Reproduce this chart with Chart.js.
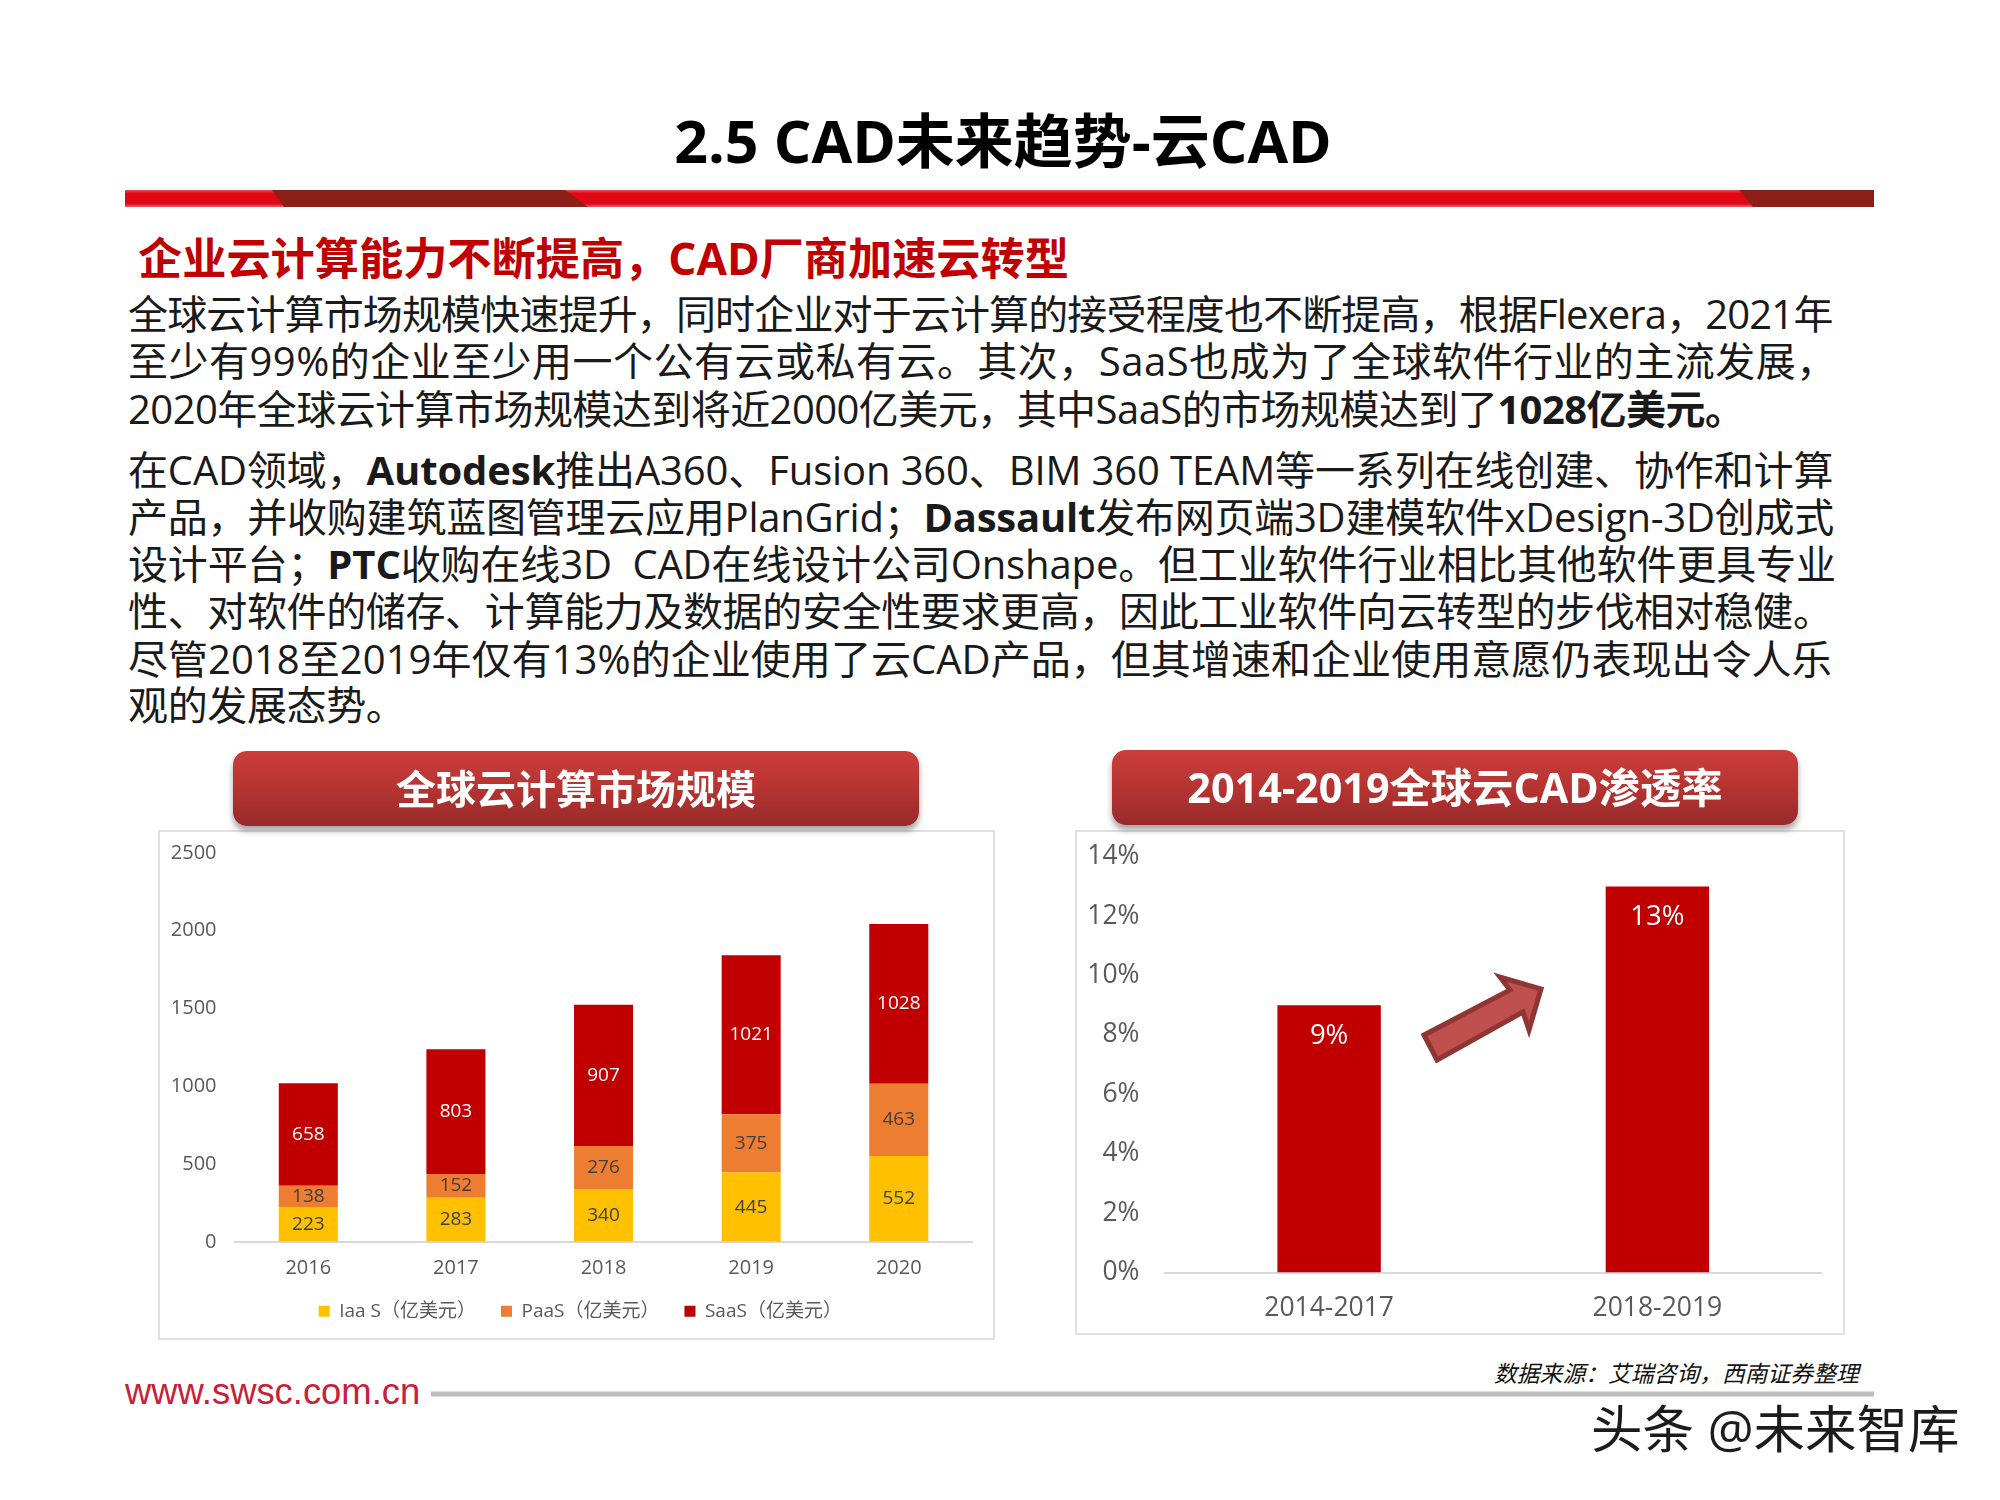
<!DOCTYPE html>
<html lang="zh-CN">
<head>
<meta charset="utf-8">
<title>2.5 CAD未来趋势-云CAD</title>
<script src="https://cdn.jsdelivr.net/npm/chart.js@4"></script>
<style>
  html, body { margin: 0; padding: 0; background: #fff; }
  body { position: relative; width: 2000px; height: 1500px; overflow: hidden;
         font-family: "Open Sans", "Noto Sans CJK SC", sans-serif; color: #111; }
  .t { position: absolute; white-space: nowrap; line-height: 1; }
  .body-line { left: 128px; font-size: 40px; transform: translateY(-50%); color: #1a1a1a; }
  .panel { position: absolute; box-sizing: border-box; border: 2px solid #e0e0e0; background: #fff; }
  .panel canvas { position: absolute; left: -2px; top: -2px; }
  .pill { position: absolute; height: 75px; border-radius: 14px; color: #fff; font-weight: 700;
          font-size: 40px; line-height: 75px; text-align: center; z-index: 2;
          background: linear-gradient(#cc3e3c, #b83532 45%, #982a2a);
          box-shadow: 0 5px 6px rgba(90, 90, 90, .55); }
  svg { position: absolute; left: 0; top: 0; z-index: 3; pointer-events: none; }
</style>
</head>
<body>
<div class="t" style="left:0;width:2006px;text-align:center;top:111px;font-size:59px;font-weight:700;color:#000">2.5 CAD未来趋势-云CAD</div>

<div class="t" style="left:138px;top:236px;font-size:44.2px;font-weight:700;color:#c00000">企业云计算能力不断提高，CAD厂商加速云转型</div>

<div class="t body-line" style="top:314px;letter-spacing:-.86px">全球云计算市场规模快速提升，同时企业对于云计算的接受程度也不断提高，根据Flexera，2021年</div>
<div class="t body-line" style="top:361px;letter-spacing:.48px">至少有99%的企业至少用一个公有云或私有云。其次，SaaS也成为了全球软件行业的主流发展，</div>
<div class="t body-line" style="top:408.5px;letter-spacing:-.55px">2020年全球云计算市场规模达到将近2000亿美元，其中SaaS的市场规模达到了<b>1028亿美元。</b></div>
<div class="t body-line" style="top:470px;letter-spacing:-.13px">在CAD领域，<b>Autodesk</b>推出A360、Fusion 360、BIM 360 TEAM等一系列在线创建、协作和计算</div>
<div class="t body-line" style="top:517px;letter-spacing:-.23px">产品，并收购建筑蓝图管理云应用PlanGrid；<b>Dassault</b>发布网页端3D建模软件xDesign-3D创成式</div>
<div class="t body-line" style="top:564px;letter-spacing:-.13px">设计平台；<b>PTC</b>收购在线3D&nbsp; CAD在线设计公司Onshape。但工业软件行业相比其他软件更具专业</div>
<div class="t body-line" style="top:611px;letter-spacing:-.36px">性、对软件的储存、计算能力及数据的安全性要求更高，因此工业软件向云转型的步伐相对稳健。</div>
<div class="t body-line" style="top:658.5px;letter-spacing:.05px">尽管2018至2019年仅有13%的企业使用了云CAD产品，但其增速和企业使用意愿仍表现出令人乐</div>
<div class="t body-line" style="top:704.5px;letter-spacing:-.36px">观的发展态势。</div>

<div class="pill" style="left:233px;top:751px;width:686px">全球云计算市场规模</div>
<div class="pill" style="left:1112px;top:750px;width:686px;font-size:41.3px">2014-2019全球云CAD渗透率</div>

<div class="panel" style="left:158px;top:830px;width:837px;height:510px"><canvas id="marketChart" width="837" height="510" style="width:837px;height:510px"></canvas></div>
<div class="panel" style="left:1075px;top:830px;width:770px;height:505px"><canvas id="cadChart" width="770" height="505" style="width:770px;height:505px"></canvas></div>

<svg width="2000" height="1500">
  <defs>
    <linearGradient id="barRed" x1="0" y1="0" x2="0" y2="1">
      <stop offset="0" stop-color="#e8505a"/><stop offset=".2" stop-color="#e30613"/>
      <stop offset=".8" stop-color="#e30613"/><stop offset="1" stop-color="#e8606a"/>
    </linearGradient>
  </defs>
  <rect x="125" y="190" width="1749" height="17" fill="url(#barRed)"/>
  <polygon points="272,190 565,190 588,207 284,207" fill="#8c1f18"/>
  <polygon points="1739,190 1874,190 1874,207 1753,207" fill="#8c1f18"/>
  <rect x="431" y="1391.5" width="1443" height="5" fill="#bdbdbd"/>
  <polygon points="1424,1035 1510,990 1500,977 1541,989 1529,1030 1523,1012 1437,1060"
           fill="#c0504d" stroke="#8f3533" stroke-width="5"/>
</svg>

<div class="t" style="left:125px;top:1374px;font-family:'Liberation Sans';font-size:36.4px;color:#c8203a">www.swsc.com.cn</div>
<div class="t" style="left:1494px;top:1363px;font-size:22.8px;font-style:italic;color:#111">数据来源：艾瑞咨询，西南证券整理</div>
<div class="t" style="left:1591px;top:1403px;font-size:51.5px;color:#1c1c1c;z-index:4;text-shadow:0 1px 0 #fff">头条 @未来智库</div>

<script>
// left chart: global cloud market, 亿美元
const years = ['2016', '2017', '2018', '2019', '2020'];
const iaasValues = [223, 283, 340, 445, 552];
const paasValues = [138, 152, 276, 375, 463];
const saasValues = [658, 803, 907, 1021, 1028];
const seriesNames = ['Iaa S（亿美元）', 'PaaS（亿美元）', 'SaaS（亿美元）'];

// right chart: cloud CAD penetration, %
const periods = ['2014-2017', '2018-2019'];
const penetration = [9, 13];

const YELLOW = '#ffc000', ORANGE = '#ed7d31', RED = '#c00000';
const GREY = '#595959', AXIS = '#d9d9d9';

Chart.defaults.font.family = '"Open Sans", "Noto Sans CJK SC", sans-serif';
Chart.defaults.color = GREY;
Chart.defaults.animation = false;

// no datalabels plugin available, so labels are drawn from the bar elements
const barLabels = {
    id: 'barLabels',
    afterDatasetsDraw(chart, args, opts) {
        const ctx = chart.ctx;
        ctx.save();
        ctx.textAlign = 'center';
        ctx.textBaseline = 'middle';
        ctx.font = opts.size + 'px ' + Chart.defaults.font.family;
        chart.data.datasets.forEach((ds, i) => {
            chart.getDatasetMeta(i).data.forEach((bar, j) => {
                const y = opts.insideEnd ? bar.y + opts.insideEnd : (bar.y + bar.base) / 2;
                ctx.fillStyle = ds.labelColor;
                ctx.fillText(ds.data[j] + (opts.suffix || ''), bar.x, y);
            });
        });
        ctx.restore();
    }
};

// legend row sits closer to the axis than the layout boxes allow
const legendNudge = {
    id: 'legendNudge',
    afterLayout(chart, args, opts) {
        const lg = chart.legend;
        lg.left += opts.dx; lg.right += opts.dx;
        lg.top += opts.dy; lg.bottom += opts.dy;
    }
};

new Chart(document.getElementById('marketChart'), {
    type: 'bar',
    plugins: [barLabels, legendNudge],
    data: {
        labels: years,
        datasets: [
            { label: seriesNames[0], data: iaasValues, backgroundColor: YELLOW, labelColor: '#404040' },
            { label: seriesNames[1], data: paasValues, backgroundColor: ORANGE, labelColor: '#404040' },
            { label: seriesNames[2], data: saasValues, backgroundColor: RED, labelColor: '#fff' }
        ]
    },
    options: {
        responsive: false,
        layout: { padding: { right: 22.4, top: 22.8, bottom: 6.2 } },
        datasets: { bar: { categoryPercentage: 1, barPercentage: 0.4 } },
        plugins: {
            tooltip: { enabled: false },
            barLabels: { size: 19 },
            legendNudge: { dx: 15, dy: -3 },
            legend: {
                position: 'bottom',
                labels: { boxWidth: 11, boxHeight: 11, padding: 25, font: { size: 19 }, color: GREY }
            }
        },
        scales: {
            x: {
                stacked: true,
                afterFit(s) { s.height = 38; },
                grid: { display: false, drawTicks: false },
                border: { color: AXIS, width: 2 },
                ticks: { padding: 14, font: { size: 20 }, color: GREY, maxRotation: 0 }
            },
            y: {
                stacked: true,
                min: 0,
                max: 2500,
                // tick padding would otherwise be added above the top tick
                afterFit(s) { s.width = 76.5; s.paddingTop = 0; },
                grid: { display: false, drawTicks: false },
                border: { display: false },
                ticks: { stepSize: 500, padding: 18, font: { size: 20 }, color: GREY, callback: v => String(v) }
            }
        }
    }
});

new Chart(document.getElementById('cadChart'), {
    type: 'bar',
    plugins: [barLabels],
    data: {
        labels: periods,
        datasets: [{ data: penetration, backgroundColor: RED, labelColor: '#fff' }]
    },
    options: {
        responsive: false,
        layout: { padding: { right: 23.5, top: 26.7 } },
        datasets: { bar: { categoryPercentage: 1, barPercentage: 0.315 } },
        plugins: {
            tooltip: { enabled: false },
            legend: { display: false },
            barLabels: { size: 27.5, insideEnd: 31, suffix: '%' }
        },
        scales: {
            x: {
                afterFit(s) { s.height = 62.4; },
                grid: { display: false, drawTicks: false },
                border: { color: AXIS, width: 2 },
                ticks: { padding: 19.5, font: { size: 26.5 }, color: GREY, maxRotation: 0 }
            },
            y: {
                min: 0,
                max: 14,
                afterFit(s) { s.width = 90; s.paddingTop = 0; },
                grid: { display: false, drawTicks: false },
                border: { display: false },
                ticks: { stepSize: 2, padding: 25.5, font: { size: 26.5 }, color: GREY, callback: v => v + '%' }
            }
        }
    }
});
</script>
</body>
</html>
